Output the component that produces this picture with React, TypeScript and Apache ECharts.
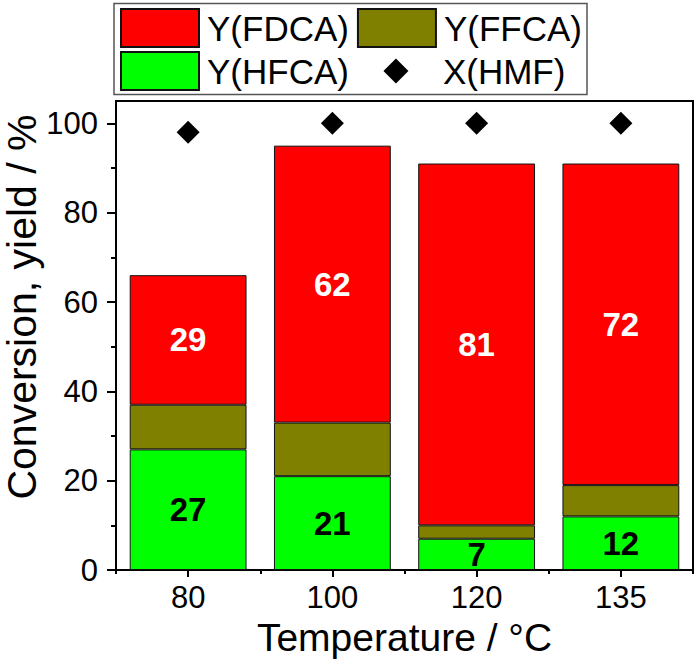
import React, { useEffect, useRef } from "react";
import * as echarts from "echarts";

const categories = ["80", "100", "120", "135"];
const yFDCA = [29, 62, 81, 72];
const yFFCA = [10, 12, 3, 7];
const yHFCA = [27, 21, 7, 12];
const xHMF = [98, 100, 100, 100];
const yMajorTicks = [0, 20, 40, 60, 80, 100];
const yMinorTicks = [10, 30, 50, 70, 90];

const FONT = "'Liberation Sans', Arial, sans-serif";

export default function App() {
  const ref = useRef<HTMLDivElement>(null);
  useEffect(() => {
    if (!ref.current) return;
    const chart = echarts.init(ref.current, undefined, { renderer: "svg" });
    const diamondIcon =
      "path://M0,0L0,0M78,0L78,0M0,38L0,38M78,38L78,38M39,6.5L51.5,19L39,31.5L26.5,19Z";
    const legendCommon = {
      left: 120,
      orient: "horizontal",
      itemWidth: 78,
      itemHeight: 38,
      itemGap: 8,
      padding: 0,
      selectedMode: false,
      textStyle: { fontFamily: FONT, fontSize: 35, color: "#000", padding: [0, 0, 0, 3] },
    };
    chart.setOption({
      animation: false,
      textStyle: { fontFamily: FONT },
      grid: {
        left: 116,
        right: 5,
        top: 101,
        bottom: 93,
        containLabel: false,
        outerBoundsMode: "none",
        show: true,
        borderColor: "#000",
        borderWidth: 2,
        backgroundColor: "transparent",
      },
      graphic: [
        {
          type: "rect",
          z: 0,
          shape: { x: 114, y: 3.5, width: 473, height: 91 },
          style: { fill: "transparent", stroke: "#555", lineWidth: 1.5 },
        },
      ],
      legend: [
        {
          ...legendCommon,
          top: 8,
          data: [
            { name: "Y(FDCA)", icon: "rect" },
            { name: "Y(FFCA)", icon: "rect" },
          ],
        },
        {
          ...legendCommon,
          top: 51,
          data: [
            { name: "Y(HFCA)", icon: "rect" },
            { name: "X(HMF)", icon: diamondIcon },
          ],
        },
      ],
      xAxis: [
        {
          type: "category",
          data: categories,
          position: "bottom",
          name: "Temperature / °C",
          nameLocation: "middle",
          nameGap: 48,
          nameMoveOverlap: false,
          nameTextStyle: { fontFamily: FONT, fontSize: 39, color: "#000" },
          axisLine: { show: true, lineStyle: { color: "#000", width: 2 } },
          axisTick: { show: true, alignWithLabel: true, length: 7, lineStyle: { color: "#000", width: 2 } },
          axisLabel: { fontFamily: FONT, fontSize: 31, color: "#000", margin: 12 },
          splitLine: { show: false },
        },
        {
          type: "category",
          data: categories,
          position: "bottom",
          axisLine: { show: false },
          axisTick: { show: true, alignWithLabel: false, interval: 0, length: 4, lineStyle: { color: "#000", width: 2 } },
          axisLabel: { show: false },
          splitLine: { show: false },
        },
      ],
      yAxis: [
        {
          type: "value",
          min: 0,
          max: 105,
          interval: 20,
          name: "Conversion, yield / %",
          nameLocation: "middle",
          nameGap: 74,
          nameMoveOverlap: false,
          nameTextStyle: { fontFamily: FONT, fontSize: 41, color: "#000", padding: [0, 0, 0, 57] },
          axisLine: { show: true, lineStyle: { color: "#000", width: 2 } },
          axisTick: { show: true, length: 9, customValues: yMajorTicks, lineStyle: { color: "#000", width: 2 } },
          axisLabel: { fontFamily: FONT, fontSize: 31, color: "#000", margin: 18, customValues: yMajorTicks },
          splitLine: { show: false },
        },
        {
          type: "value",
          min: 0,
          max: 105,
          interval: 20,
          position: "left",
          axisLine: { show: false },
          axisTick: { show: true, length: 5, customValues: yMinorTicks, lineStyle: { color: "#000", width: 2 } },
          axisLabel: { show: false },
          splitLine: { show: false },
        },
      ],
      series: [
        {
          name: "Y(HFCA)",
          type: "bar",
          stack: "total",
          data: yHFCA,
          barWidth: "81%",
          itemStyle: { color: "#00FF00", borderColor: "#111", borderWidth: 1 },
          label: {
            show: true,
            position: "inside",
            color: "#000",
            fontFamily: FONT,
            fontWeight: "bold",
            fontSize: 33,
          },
        },
        {
          name: "Y(FFCA)",
          type: "bar",
          stack: "total",
          data: yFFCA,
          barWidth: "81%",
          itemStyle: { color: "#808000", borderColor: "#111", borderWidth: 1 },
        },
        {
          name: "Y(FDCA)",
          type: "bar",
          stack: "total",
          data: yFDCA,
          barWidth: "81%",
          itemStyle: { color: "#FF0000", borderColor: "#111", borderWidth: 1 },
          label: {
            show: true,
            position: "inside",
            color: "#fff",
            fontFamily: FONT,
            fontWeight: "bold",
            fontSize: 33,
          },
        },
        {
          name: "X(HMF)",
          type: "scatter",
          data: xHMF,
          symbol: "diamond",
          symbolSize: 23,
          itemStyle: { color: "#000", opacity: 1 },
          z: 5,
        },
      ],
    });
    return () => chart.dispose();
  }, []);
  return (
    <div
      ref={ref}
      style={{ position: "absolute", left: 0, top: 0, width: 698, height: 663 }}
    />
  );
}
